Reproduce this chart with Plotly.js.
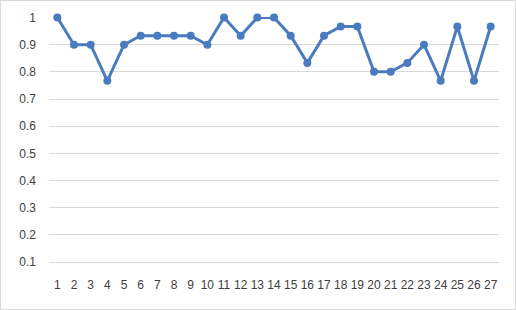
<!DOCTYPE html>
<html>
<head>
<meta charset="utf-8">
<script src="https://cdn.plot.ly/plotly-3.0.1.min.js"></script>
<style>
html,body{margin:0;padding:0;background:#fff;}
#wrap{position:absolute;left:0;top:0;width:514px;height:308px;border:1px solid #d9d9d9;}
#chart{position:absolute;left:-1px;top:-1px;width:516px;height:310px;}
</style>
</head>
<body>
<div id="wrap"><div id="chart"></div></div>
<script>
const categories = ["1","2","3","4","5","6","7","8","9","10","11","12","13","14","15","16","17","18","19","20","21","22","23","24","25","26","27"];
const values = [1, 0.9, 0.9, 0.767, 0.9, 0.933, 0.933, 0.933, 0.933, 0.9, 1, 0.933, 1, 1, 0.933, 0.833, 0.933, 0.967, 0.967, 0.8, 0.8, 0.833, 0.9, 0.767, 0.967, 0.767, 0.967];
const yTickVals = [0.1, 0.2, 0.3, 0.4, 0.5, 0.6, 0.7, 0.8, 0.9, 1];
const yTickText = ["0.1", "0.2", "0.3", "0.4", "0.5", "0.6", "0.7", "0.8", "0.9", "1"];

const trace = {
  x: categories,
  y: values,
  type: 'scatter',
  mode: 'lines+markers',
  line: {color: '#4a7bbf', width: 3},
  marker: {color: '#4a7bbf', size: 8},
  cliponaxis: false,
  hoverinfo: 'x+y'
};

const layout = {
  width: 516, height: 310,
  margin: {l: 49, r: 17, t: 17, b: 48},
  paper_bgcolor: 'rgba(0,0,0,0)',
  plot_bgcolor: 'rgba(0,0,0,0)',
  showlegend: false,
  font: {family: 'Liberation Sans, Arial, sans-serif', size: 12, color: '#404040'},
  xaxis: {
    type: 'category',
    range: [-0.5, categories.length - 0.5],
    autorange: false,
    showgrid: false,
    zeroline: false,
    showline: true,
    linecolor: '#d9d9d9',
    linewidth: 1,
    ticks: '',
    tickangle: 0,
    automargin: false,
    ticklabelstandoff: 12,
    tickfont: {size: 12, color: '#404040'},
    fixedrange: true
  },
  yaxis: {
    range: [0.1, 1.002],
    autorange: false,
    automargin: false,
    tickvals: yTickVals,
    ticktext: yTickText,
    showgrid: true,
    gridcolor: '#d9d9d9',
    gridwidth: 1,
    zeroline: false,
    showline: false,
    ticks: '',
    ticklabelstandoff: 12,
    tickfont: {size: 12, color: '#404040'},
    fixedrange: true
  }
};

Plotly.newPlot('chart', [trace], layout, {displayModeBar: false, staticPlot: true});
</script>
</body>
</html>
